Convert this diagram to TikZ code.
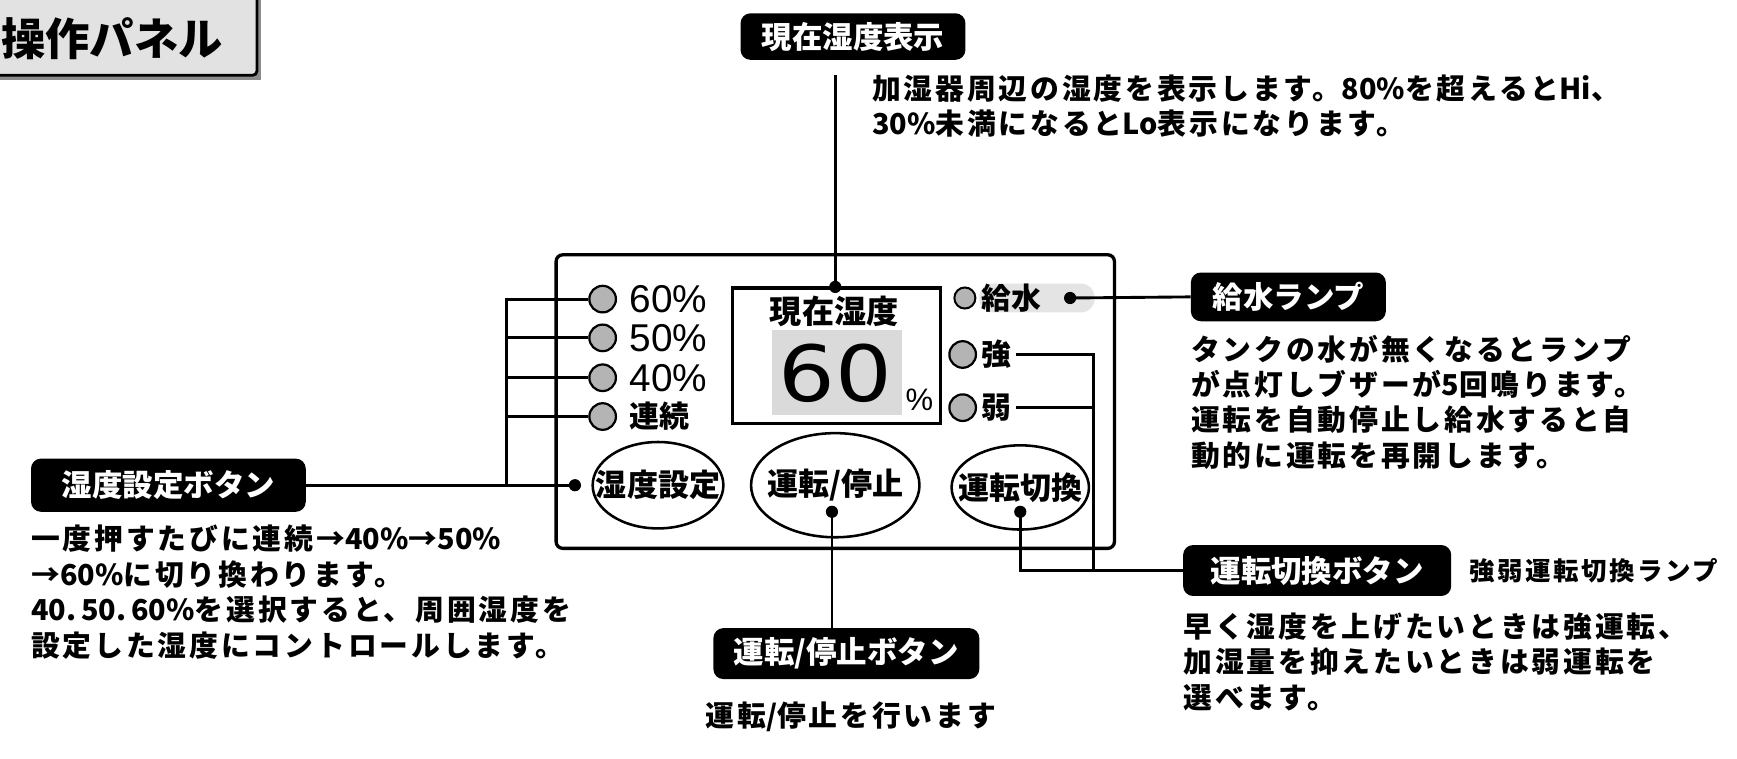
\documentclass[tikz,border=0pt]{standalone}
\usepackage{fontspec}
\usetikzlibrary{shapes.geometric}
\setmainfont{Liberation Sans}
\newfontfamily\jp{Noto Sans CJK JP}
\newfontfamily\jpsp{Noto Sans CJK JP}[LetterSpace=10]
\newfontfamily\bigfont{DejaVu Sans}
\newcommand{\ns}[1]{{\jp #1}}
\definecolor{lampgray}{RGB}{180,180,180}
\definecolor{dispgray}{RGB}{218,218,218}
\definecolor{bandgray}{RGB}{228,228,228}
\definecolor{titlegray}{RGB}{226,226,226}
\begin{document}
\begin{tikzpicture}[x=1pt,y=-1pt,
  tag/.style={fill=black,text=white,rounded corners=9pt,inner sep=0,
    font=\jp\bfseries\fontsize{27.5}{30}\selectfont},
  desc/.style={font=\jpsp\bfseries\fontsize{26}{32}\selectfont,align=left,inner sep=0,anchor=north west},
  lamp/.style={circle,draw,line width=2,fill=lampgray,inner sep=0,minimum size=24},
  lampsm/.style={circle,draw,line width=1.8,fill=lampgray,inner sep=0,minimum size=19},
  pct/.style={font=\fontsize{35}{35}\selectfont,inner sep=0,anchor=west},
  jlab/.style={font=\jp\bfseries\fontsize{27}{27}\selectfont,inner sep=0,anchor=west},
  btn/.style={ellipse,draw,line width=2.3,inner sep=0,font=\jp\bfseries\fontsize{28}{28}\selectfont},
  dot/.style={circle,fill=black,inner sep=0,minimum size=11},
  wire/.style={line width=2.6}]
\useasboundingbox (0,0) rectangle (1568,685);

% title
\fill[black!45] (-10,-10) rectangle (236,72);
\draw[fill=titlegray,line width=2.5,rounded corners=4pt] (-10,-10) rectangle (232,68);
\node[font=\jp\bfseries\fontsize{40}{40}\selectfont,inner sep=0] (title) at (101,35) {操作パネル};

% panel
\draw[line width=3,rounded corners=6pt] (502,230) rectangle (1006,495);
\draw[line width=3] (661,260) rectangle (849,382);
\fill[dispgray] (697,298) rectangle (814,375);
\node[font=\jp\bfseries\fontsize{29}{29}\selectfont,inner sep=0] (cur) at (753,281) {現在湿度};
\node[font=\bigfont\fontsize{70}{70}\selectfont,inner sep=0] (big) at (754,337) {\scalebox{1.15}[1]{60}};
\node[font=\fontsize{28}{28}\selectfont,inner sep=0] (bigpct) at (830,361) {\%};

% left lamps
\node[lamp] (l60) at (544,270) {};
\node[lamp] (l50) at (544,305) {};
\node[lamp] (l40) at (544,341) {};
\node[lamp] (lc) at (544,376) {};
\node[pct] (t60) at (568,270) {60\%};
\node[pct] (t50) at (568,305) {50\%};
\node[pct] (t40) at (568,341) {40\%};
\node[jlab] (tc) at (568,376) {連続};

% right lamps
\fill[bandgray,rounded corners=12pt] (884,256) rectangle (988,282);
\node[lampsm] (lw) at (871,269) {};
\node[lamp] (ls) at (869,320) {};
\node[lamp] (lwk) at (869,368) {};
\node[jlab] (tw) at (886,269) {給水};
\node[jlab] (ts) at (886,320) {強};
\node[jlab] (twk) at (886,368) {弱};

% buttons
\node[btn,minimum width=118,minimum height=78] (b1) at (594,438) {\makebox[0pt]{湿度設定}};
\node[btn,minimum width=152,minimum height=94] (b2) at (754,438) {\makebox[0pt]{運転/停止}};
\node[btn,minimum width=124,minimum height=76] (b3) at (921,440) {\makebox[0pt]{運転切換}};

% dots
\node[dot] (d1) at (519,438) {};
\node[dot] (d2) at (751,462) {};
\node[dot] (d3) at (921,462) {};
\node[dot] (d4) at (754,259) {};
\node[dot] (d5) at (966,269) {};

% tags
\node[tag,minimum width=203,minimum height=42] (g1) at (770,33) {現在湿度表示};
\node[tag,minimum width=176,minimum height=44] (g2) at (1163,268) {給水ランプ};
\node[tag,minimum width=248,minimum height=48] (g3) at (152,438) {湿度設定ボタン};
\node[tag,minimum width=240,minimum height=46] (g4) at (764,590) {運転/停止ボタン};
\node[tag,minimum width=242,minimum height=46] (g5) at (1189,515) {運転切換ボタン};

% descriptions
\node[desc] (x1) at (787,67) {加湿器周辺の湿度を表示します。\ns{80\%}を超えると\ns{Hi}、\\\ns{30\%}未満になると\ns{Lo}表示になります。};
\node[desc] (x2) at (1075,302) {タンクの水が無くなるとランプ\\が点灯しブザーが\ns{5}回鳴ります。\\運転を自動停止し給水すると自\\動的に運転を再開します。};
\node[desc] (x3) at (28,474) {一度押すたびに連続→\ns{40\%}→\ns{50\%}\\→\ns{60\%}に切り換わります。\\\ns{40.\,50.\,60\%}を選択すると、周囲湿度を\\設定した湿度にコントロールします。};
\node[desc] (x4) at (1068,553) {早く湿度を上げたいときは強運転、\\加湿量を抑えたいときは弱運転を\\選べます。};
\node[desc,anchor=center] (x5) at (768,647) {運転\ns{/}停止を行います};
\node[font=\jpsp\bfseries\fontsize{23}{23}\selectfont,inner sep=0,anchor=west] (x6) at (1326,515) {強弱運転切換ランプ};

% connectors
\coordinate (topend) at (754,68);
\draw[wire] (topend) -- (d4.center);
\draw[wire] (d5.center) -- (g2.west);
\draw[wire] (g3.east) -- (d1.center);
\coordinate (busL) at (457,438);
\draw[wire] (busL) -- (457,270) -- (l60.west);
\draw[wire] (457,305) -- (l50.west);
\draw[wire] (457,341) -- (l40.west);
\draw[wire] (457,376) -- (lc.west);
\draw[wire] (d2.center) -- (g4.north -| d2);
\draw[wire] (d3.center) -- (921,515) -- (g5.west);
\draw[wire] (ts.east) ++(4,0) -- (987,320) -- (987,515);
\draw[wire] (twk.east) ++(4,0) -- (987,368);
\end{tikzpicture}
\end{document}
